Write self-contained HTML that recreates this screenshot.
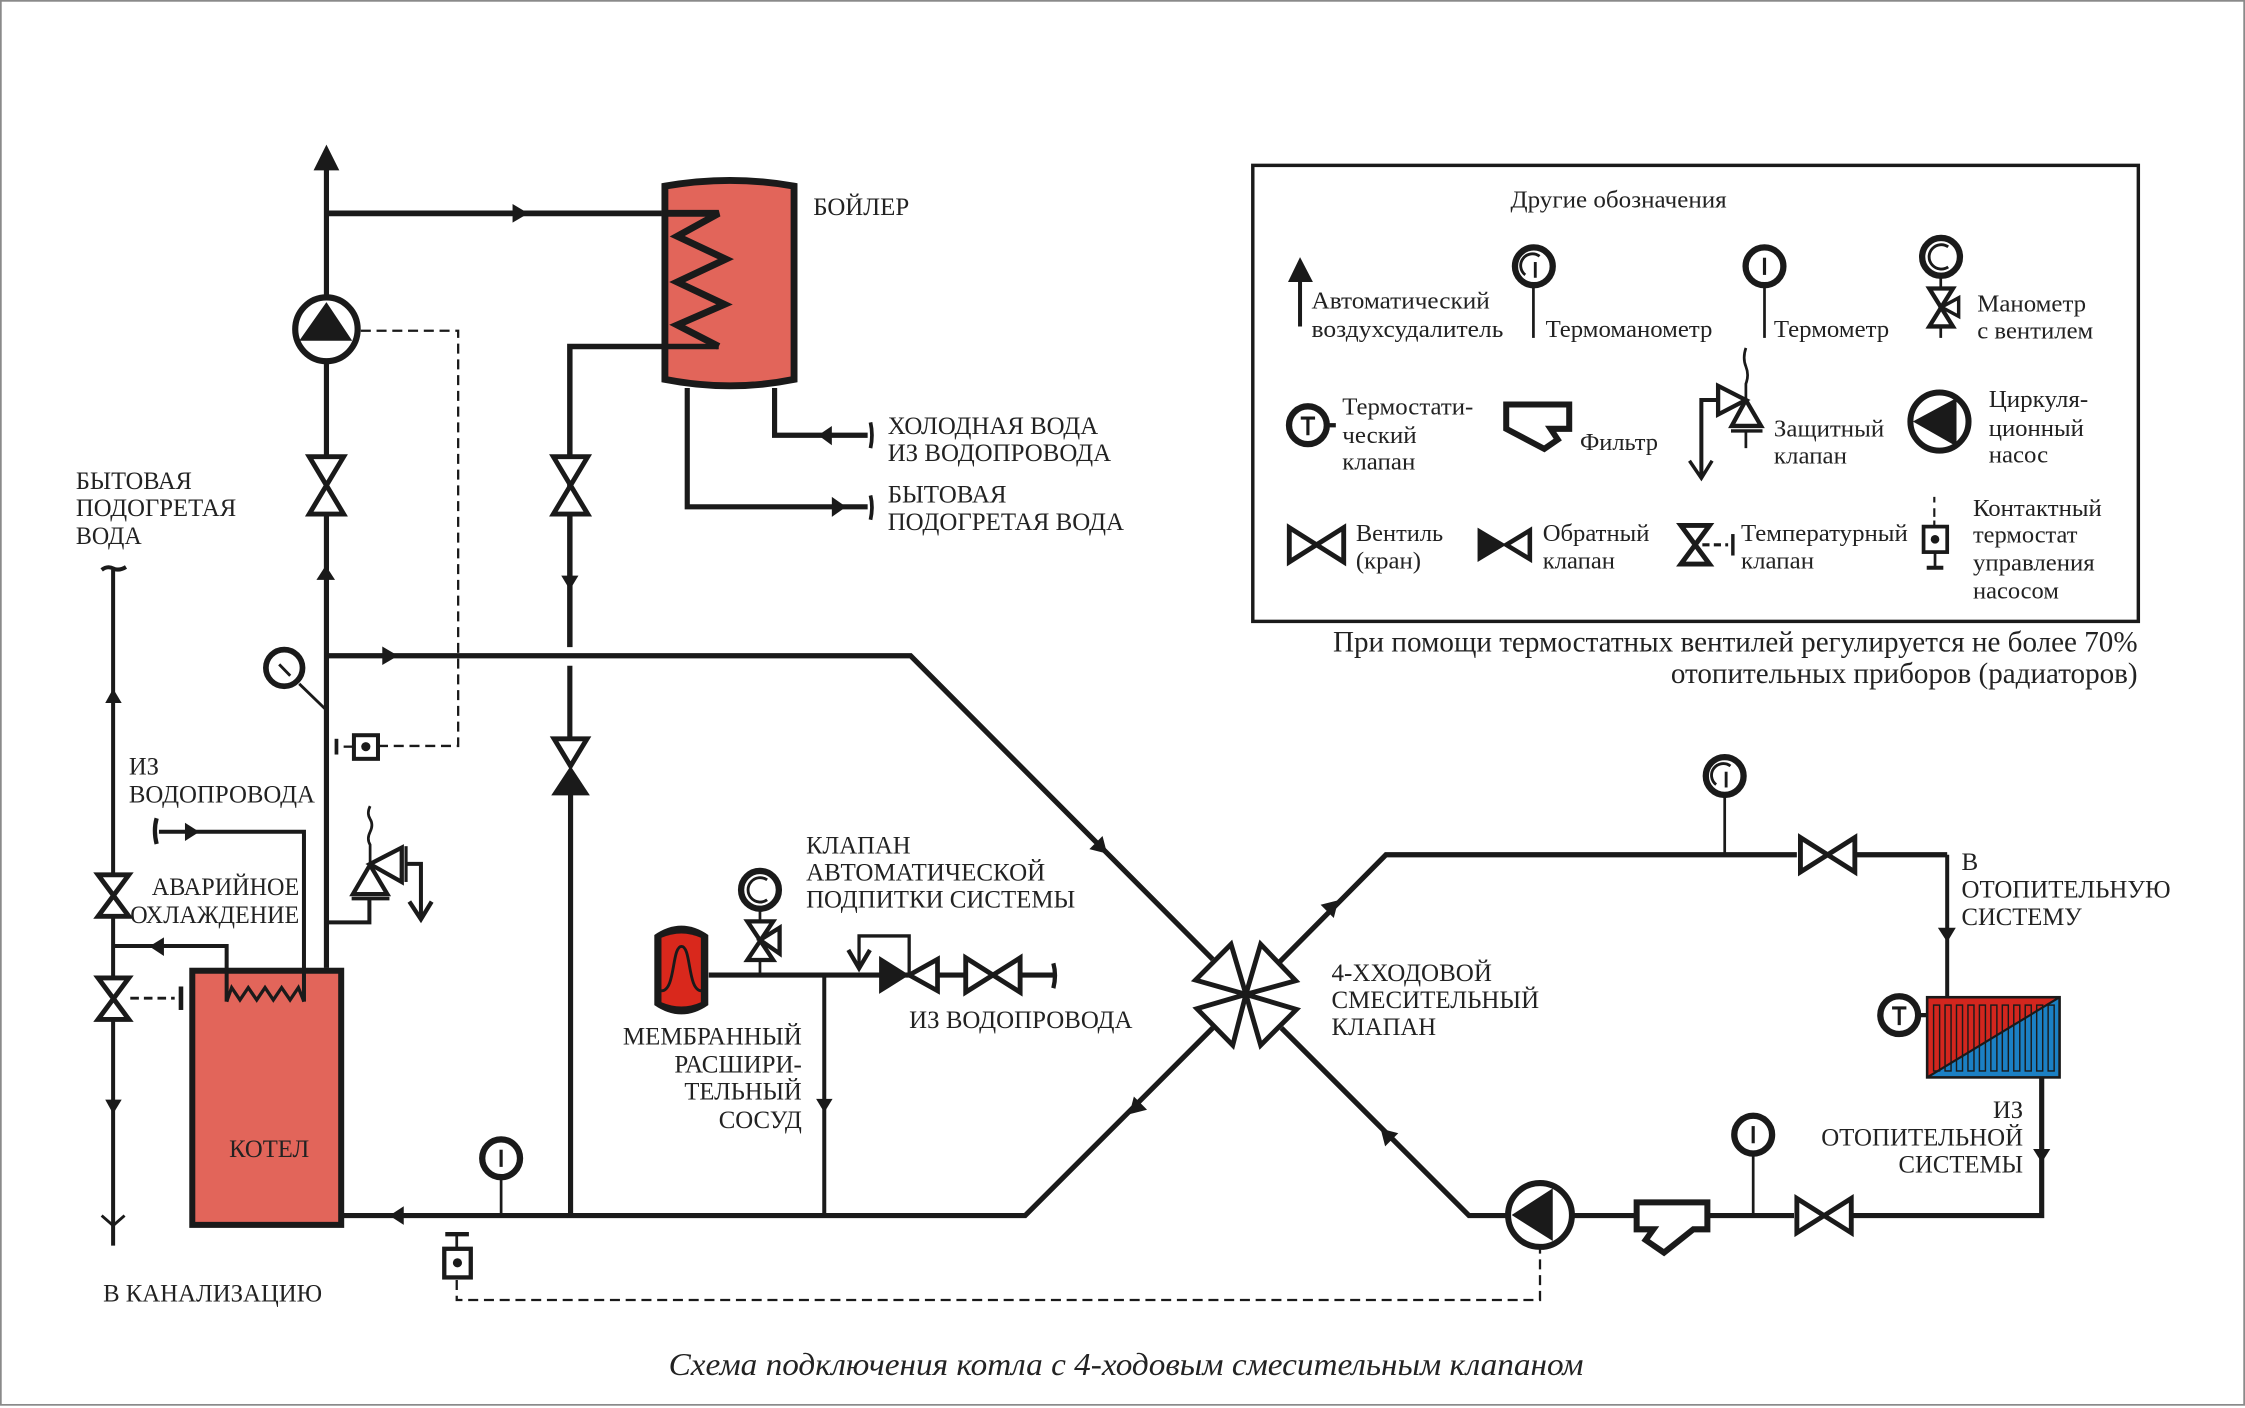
<!DOCTYPE html>
<html lang="ru"><head><meta charset="utf-8"><title>Схема подключения котла</title>
<style>
html,body{margin:0;padding:0;background:#fff}
svg{display:block}
text{font-family:"Liberation Serif","Noto Serif CJK SC",serif;font-size:17.5px;fill:#222}
.lg text{font-size:17px}
.p{fill:none;stroke:#1a1a1a;stroke-width:3.6;stroke-linejoin:miter}
.m{fill:none;stroke:#1a1a1a;stroke-width:2.8}
.t{fill:none;stroke:#1a1a1a;stroke-width:1.9}
.d{fill:none;stroke:#1a1a1a;stroke-width:1.6;stroke-dasharray:7 4}
.v{fill:#fff;stroke:#1a1a1a;stroke-width:3.4;stroke-linejoin:miter}
.b{fill:#1a1a1a;stroke:none}
</style></head><body>
<svg xmlns="http://www.w3.org/2000/svg" width="2245" height="1408" viewBox="0 0 1568 983.4">
<defs>
<polygon id="ah" class="b" points="6,0 -5,-6.500 -5,6.500"/>
<g id="vv"><path class="v" d="M-12,-20H12L-12,20H12Z"/></g>
<g id="vh"><path class="v" d="M-19,-12V12L19,-12V12Z"/></g>
<g id="gt"><circle r="13.200" fill="#fff" stroke="#1a1a1a" stroke-width="4.400"/><path d="M0,-6V6" stroke="#1a1a1a" stroke-width="2.200" fill="none"/></g>
<g id="gm"><circle r="13.200" fill="#fff" stroke="#1a1a1a" stroke-width="4.400"/><path d="M4,-7A8,8 0 0 0 -6,6" stroke="#1a1a1a" stroke-width="2" fill="none"/><path d="M1,-3V8" stroke="#1a1a1a" stroke-width="2" fill="none"/></g>
<g id="gp"><circle r="13.200" fill="#fff" stroke="#1a1a1a" stroke-width="4.400"/><path d="M5,-7A8.500,8.500 0 1 0 5,7" stroke="#1a1a1a" stroke-width="2" fill="none"/></g>
<g id="gT"><circle r="13.200" fill="#fff" stroke="#1a1a1a" stroke-width="4.400"/><path d="M-5,-5H5M0,-5V7" stroke="#1a1a1a" stroke-width="2.200" fill="none"/></g>
</defs>
<rect width="1568" height="983.4" fill="#fff"/>
<rect x=".6" y=".6" width="1566.8" height="980.6" fill="none" stroke="#8a8a8a" stroke-width="1.2"/>

<!-- main risers -->
<path class="p" d="M228,115V676"/>
<polygon class="b" points="228,101 219,119 237,119"/>
<path d="M228,149H462" fill="none" stroke="#1a1a1a" stroke-width="4"/>
<use href="#ah" x="363" y="149"/>
<polygon class="b" points="221,405 234,405 227.500,395"/>
<!-- boiler -->
<path d="M464.400,130Q510,122 554.600,130V265Q510,274 464.400,265Z" fill="#e2655a" stroke="#1a1a1a" stroke-width="4.800"/>
<path d="M462,149H502L473,165 507,181 473,197 506,212.600 473,227 502,242" fill="none" stroke="#1a1a1a" stroke-width="4.800"/>
<path d="M502,242H398V452" fill="none" stroke="#1a1a1a" stroke-width="3.800"/>
<path class="p" d="M541,271V304H606"/>
<polygon class="b" points="571.500,304 581,297.500 581,311"/>
<path class="p" d="M480,271V354H606"/>
<polygon class="b" points="581,347 581,361 591,354"/>
<path d="M608,295Q610,304 608,313M608,346Q610,354 608,363" fill="none" stroke="#1a1a1a" stroke-width="2.600"/>
<!-- upper pump -->
<ellipse cx="228" cy="230" rx="21.800" ry="22.300" fill="#fff" stroke="#1a1a1a" stroke-width="4.300"/>
<polygon class="b" points="228,211 209,238 246,238"/>
<path class="d" d="M252,231H320V521H265"/>
<use href="#vv" x="228" y="339"/>
<use href="#vv" x="398.500" y="339"/>
<polygon class="b" points="392,402 404,402 398,412"/>
<!-- supply line -->
<path class="p" d="M228,458H636L847,670"/>
<use href="#ah" x="272" y="458"/>
<path class="p" d="M398,465V515"/>
<path class="v" d="M387,516H410L398.500,535Z"/>
<polygon class="b" points="398.500,535 385,555.500 412,555.500"/>
<path class="p" d="M398.500,555V849"/>
<!-- gauge and sensor -->
<circle cx="198.500" cy="466.500" r="12.800" fill="#fff" stroke="#1a1a1a" stroke-width="4"/>
<path d="M195,464L202.700,472M209,477.600L227,495" stroke="#1a1a1a" stroke-width="2" fill="none"/>
<rect x="247.200" y="513.500" width="16.800" height="16.500" fill="#fff" stroke="#1a1a1a" stroke-width="2.800"/>
<circle cx="255.500" cy="521.500" r="3.200" class="b"/>
<path d="M235,516V527" stroke="#1a1a1a" stroke-width="2.600"/>
<path d="M240,521.500H246" stroke="#1a1a1a" stroke-width="1.600"/>
<!-- left line -->
<path class="m" d="M79,398V870"/>
<path d="M71,398Q75,395 79,397T88,396" fill="none" stroke="#1a1a1a" stroke-width="2.800"/>
<polygon class="b" points="79,481 73.500,491 85,491"/>
<polygon class="b" points="73.500,768 85,768 79,778"/>
<path d="M71,849L79,856 87,849" fill="none" stroke="#1a1a1a" stroke-width="2"/>
<path class="v" d="M68.500,611H90L68.500,640H90Z"/>
<path class="v" d="M68.500,683H90L68.500,712H90Z"/>
<path d="M91,697.200H122" stroke="#1a1a1a" stroke-width="2" stroke-dasharray="6 3.500"/>
<path d="M126.400,689V705.400" stroke="#1a1a1a" stroke-width="3.200"/>
<!-- boiler (kotel) -->
<rect x="134.300" y="678" width="104" height="177.500" fill="#e2655a" stroke="#1a1a1a" stroke-width="4.200"/>
<path class="m" d="M79,660.700H158.300V699.600"/>
<polygon class="b" points="104.300,661 114.500,654.700 114.500,667.700"/>
<path class="m" d="M111,580.900H212.300V699.600"/>
<path d="M109.400,571.500Q107,580 109.400,589.500" fill="none" stroke="#1a1a1a" stroke-width="3"/>
<polygon class="b" points="129.200,574.600 129.200,587.400 139.200,581"/>
<path d="M158.300,699.600L161.800,689.800 167.600,698.400 173.400,689.800 179.300,698.400 185.100,689.800 190.900,698.400 196.700,689.800 202.600,698.400 208.400,689.800 212.300,699.600" fill="none" stroke="#1a1a1a" stroke-width="2.300"/>
<!-- safety valve -->
<path class="m" d="M228,644.200H258V628"/>
<path class="t" d="M258.500,563Q256,568 258.500,572T258.500,581 258.500,590V604"/>
<path class="v" style="stroke-width:3" d="M258.400,604.100L270.500,624.500H246.500Z"/>
<path d="M245.600,627.600H272" stroke="#1a1a1a" stroke-width="2.600"/>
<path class="v" style="stroke-width:3" d="M258.400,603.500L280.600,592V616Z"/>
<path d="M283.600,591V616" stroke="#1a1a1a" stroke-width="2.200"/>
<path d="M284,603.400H294V641" class="m"/>
<path d="M285.900,629.700L294,642 301.500,629.700" fill="none" stroke="#1a1a1a" stroke-width="3"/>
<!-- return main -->
<path class="p" d="M240,849H716L847,718"/>
<polygon class="b" points="272,849 282,842.500 282,855.500"/>
<use href="#gt" x="350" y="809"/>
<path class="t" d="M350,824V849"/>
<path class="m" d="M575.700,681V849"/>
<polygon class="b" points="570,767.500 581.500,767.500 575.700,777"/>
<path class="m" d="M311,862H327.500" style="stroke-width:3"/>
<path class="t" d="M319,862V871"/>
<rect x="310.300" y="872.200" width="18.500" height="20" fill="#fff" stroke="#1a1a1a" stroke-width="3"/>
<circle cx="319.500" cy="882" r="3.200" class="b"/>
<path class="d" d="M319,894V908H1075.600V872"/>
<!-- membrane and makeup -->
<path class="b" d="M457,653Q476,640 494.700,653V702Q476,715 457,702Z"/>
<path d="M462,655Q476,649 489.500,655V700Q476,706 462,700Z" fill="#d9281c"/>
<path d="M462,692C472,692 469,661 476,661C483,661 480,692 490,692" fill="none" stroke="#1a1a1a" stroke-width="2"/>
<path class="p" d="M495,681H735.700"/>
<path d="M735.700,672.800Q738,681 735.700,690.200" fill="none" stroke="#1a1a1a" stroke-width="3"/>
<path class="t" d="M530.800,636V681"/>
<path class="v" style="stroke-width:3" d="M522,643.500H540L522,670.500H540Z"/>
<path d="M530.800,656.500L544.500,648V666Z" fill="#fff" stroke="#1a1a1a" stroke-width="3"/>
<use href="#gp" x="530.800" y="621.500"/>
<polygon class="b" points="614,667.700 614,694.200 635,681"/>
<path class="v" style="stroke-width:3.300" d="M635,681L654.800,670V692Z"/>
<path d="M635,681V653.700H600V675" fill="none" stroke="#1a1a1a" stroke-width="2.300"/>
<path d="M592.500,663.500L600,676.300 607.600,663.500" fill="none" stroke="#1a1a1a" stroke-width="3"/>
<use href="#vh" x="693.500" y="681"/>
<!-- 4-way valve -->
<g fill="#fff" stroke="#1a1a1a" stroke-width="3.400" stroke-linejoin="miter">
<path d="M870.200,694.500L835,684.500 859.800,659.500Z"/>
<path d="M870.200,694.500L880.500,659.500 905,685Z"/>
<path d="M870.200,694.500L836,704.500 861,730Z"/>
<path d="M870.200,694.500L905.500,705 880.500,730Z"/>
</g>
<path class="p" d="M894,671.600L968,597H1255M1297,597H1360"/>
<path class="p" d="M895,718L1026,849H1053"/>
<use href="#ah" transform="translate(769,592) rotate(45)"/>
<use href="#ah" transform="translate(930.500,633) rotate(-45)"/>
<use href="#ah" transform="translate(793,774) rotate(135)"/>
<use href="#ah" transform="translate(968.500,792.500) rotate(225)"/>
<!-- right side -->
<use href="#gm" x="1204.600" y="542"/>
<path class="t" d="M1204.600,557V597"/>
<use href="#vh" x="1276.500" y="597"/>
<path class="m" d="M1360,597V696"/>
<polygon class="b" points="1353.500,648 1366,648 1360,658"/>
<rect x="1346" y="696.500" width="92.500" height="56" fill="#1b80c4"/>
<polygon points="1346,696.500 1438.500,696.500 1346,752.500" fill="#d3261e"/>
<g fill="none" stroke="#1a1a1a" stroke-width="1">
<rect x="1350.500" y="702" width="4.200" height="46"/><rect x="1358.500" y="702" width="4.200" height="46"/><rect x="1366.500" y="702" width="4.200" height="46"/><rect x="1374.500" y="702" width="4.200" height="46"/><rect x="1382.500" y="702" width="4.200" height="46"/><rect x="1390.500" y="702" width="4.200" height="46"/><rect x="1398.500" y="702" width="4.200" height="46"/><rect x="1406.500" y="702" width="4.200" height="46"/><rect x="1414.500" y="702" width="4.200" height="46"/><rect x="1422.500" y="702" width="4.200" height="46"/><rect x="1430.500" y="702" width="4.200" height="46"/>
</g>
<rect x="1346" y="696.500" width="92.500" height="56" fill="none" stroke="#1a1a1a" stroke-width="1.800"/>
<path d="M1346,752.500L1438.500,696.500" stroke="#1a1a1a" stroke-width="1.500"/>
<path d="M1341,709H1346" stroke="#1a1a1a" stroke-width="3"/>
<use href="#gT" x="1326.500" y="709"/>
<path class="p" d="M1426,753V849H1294M1253,849H1194M1142,849H1098"/>
<polygon class="b" points="1420,802.500 1432,802.500 1426,812"/>
<use href="#vh" x="1274" y="849"/>
<use href="#gt" x="1224.500" y="792.500"/>
<path class="t" d="M1224.500,807V849"/>
<path class="v" style="stroke-width:4.200" d="M1143.100,839.800H1192.500V858.600H1182.700L1162.200,874.900 1149.400,866.100 1154.800,858.600H1143.100Z"/>
<circle cx="1075.600" cy="848.600" r="22.300" fill="#fff" stroke="#1a1a1a" stroke-width="4.200"/>
<polygon class="b" points="1055.800,848.600 1084.500,830 1084.500,866.800"/>

<!-- labels -->
<text x="568" y="150" textLength="67" lengthAdjust="spacingAndGlyphs">БОЙЛЕР</text>
<text x="620" y="303" textLength="147" lengthAdjust="spacingAndGlyphs">ХОЛОДНАЯ ВОДА</text>
<text x="620" y="322" textLength="156" lengthAdjust="spacingAndGlyphs">ИЗ ВОДОПРОВОДА</text>
<text x="620" y="351" textLength="83" lengthAdjust="spacingAndGlyphs">БЫТОВАЯ</text>
<text x="620" y="370" textLength="165" lengthAdjust="spacingAndGlyphs">ПОДОГРЕТАЯ ВОДА</text>
<text x="53" y="341.500" textLength="81" lengthAdjust="spacingAndGlyphs">БЫТОВАЯ</text>
<text x="53" y="360.500" textLength="112" lengthAdjust="spacingAndGlyphs">ПОДОГРЕТАЯ</text>
<text x="53" y="380" textLength="46" lengthAdjust="spacingAndGlyphs">ВОДА</text>
<text x="90" y="541" textLength="21" lengthAdjust="spacingAndGlyphs">ИЗ</text>
<text x="90" y="560.500" textLength="130" lengthAdjust="spacingAndGlyphs">ВОДОПРОВОДА</text>
<text x="106" y="625" textLength="103" lengthAdjust="spacingAndGlyphs">АВАРИЙНОЕ</text>
<text x="91" y="644.700" textLength="118" lengthAdjust="spacingAndGlyphs">ОХЛАЖДЕНИЕ</text>
<text x="72" y="909" textLength="153" lengthAdjust="spacingAndGlyphs">В КАНАЛИЗАЦИЮ</text>
<text x="160" y="808" textLength="56" lengthAdjust="spacingAndGlyphs">КОТЕЛ</text>
<text x="563" y="596" textLength="73" lengthAdjust="spacingAndGlyphs">КЛАПАН</text>
<text x="563" y="615" textLength="167" lengthAdjust="spacingAndGlyphs">АВТОМАТИЧЕСКОЙ</text>
<text x="563" y="634" textLength="188" lengthAdjust="spacingAndGlyphs">ПОДПИТКИ СИСТЕМЫ</text>
<text x="435" y="729.500" textLength="125" lengthAdjust="spacingAndGlyphs">МЕМБРАННЫЙ</text>
<text x="471" y="749" textLength="89" lengthAdjust="spacingAndGlyphs">РАСШИРИ-</text>
<text x="478" y="768" textLength="82" lengthAdjust="spacingAndGlyphs">ТЕЛЬНЫЙ</text>
<text x="502" y="788" textLength="58" lengthAdjust="spacingAndGlyphs">СОСУД</text>
<text x="635" y="718" textLength="156" lengthAdjust="spacingAndGlyphs">ИЗ ВОДОПРОВОДА</text>
<text x="930" y="685" textLength="112" lengthAdjust="spacingAndGlyphs">4-ХХОДОВОЙ</text>
<text x="930" y="704" textLength="145" lengthAdjust="spacingAndGlyphs">СМЕСИТЕЛЬНЫЙ</text>
<text x="930" y="723" textLength="73" lengthAdjust="spacingAndGlyphs">КЛАПАН</text>
<text x="1370" y="607.500">В</text>
<text x="1370" y="627" textLength="146" lengthAdjust="spacingAndGlyphs">ОТОПИТЕЛЬНУЮ</text>
<text x="1370" y="646" textLength="84" lengthAdjust="spacingAndGlyphs">СИСТЕМУ</text>
<text x="1392" y="781" textLength="21" lengthAdjust="spacingAndGlyphs">ИЗ</text>
<text x="1272" y="800" textLength="141" lengthAdjust="spacingAndGlyphs">ОТОПИТЕЛЬНОЙ</text>
<text x="1326" y="819" textLength="87" lengthAdjust="spacingAndGlyphs">СИСТЕМЫ</text>
<text x="467" y="960.500" textLength="639" lengthAdjust="spacingAndGlyphs" style="font-size:22.500px;font-style:italic">Схема подключения котла с 4-ходовым смесительным клапаном</text>
<text x="931" y="455" textLength="562" lengthAdjust="spacingAndGlyphs" style="font-size:20.500px">При помощи термостатных вентилей регулируется не более 70%</text>
<text x="1167" y="477" textLength="326" lengthAdjust="spacingAndGlyphs" style="font-size:20.500px">отопительных приборов (радиаторов)</text>

<!-- legend -->
<g class="lg">
<rect x="875" y="115.500" width="618.500" height="318.500" fill="none" stroke="#1a1a1a" stroke-width="2.400"/>
<text x="1055" y="145" textLength="151" lengthAdjust="spacingAndGlyphs">Другие обозначения</text>
<path class="m" d="M908,228V195"/>
<polygon class="b" points="908,179.600 899.600,197 917,197"/>
<text x="916" y="215.500" textLength="124.500" lengthAdjust="spacingAndGlyphs">Автоматический</text>
<text x="916" y="235.300" textLength="134" lengthAdjust="spacingAndGlyphs">воздухсудалитель</text>
<use href="#gm" x="1071.300" y="186"/>
<path class="t" d="M1071,201V236"/>
<text x="1079.500" y="235.300" textLength="116.500" lengthAdjust="spacingAndGlyphs">Термоманометр</text>
<use href="#gt" x="1232.400" y="186"/>
<path class="t" d="M1232.400,201V236"/>
<text x="1239" y="235.300" textLength="80.500" lengthAdjust="spacingAndGlyphs">Термометр</text>
<use href="#gp" x="1355.700" y="179.400"/>
<path class="t" d="M1355.500,194V236"/>
<path class="v" style="stroke-width:3" d="M1347.500,201.500H1364L1347.500,228H1364Z"/>
<path d="M1356,214.500L1368,208V221Z" fill="#fff" stroke="#1a1a1a" stroke-width="2.400"/>
<text x="1381" y="217.500" textLength="76" lengthAdjust="spacingAndGlyphs">Манометр</text>
<text x="1381" y="236.300" textLength="81" lengthAdjust="spacingAndGlyphs">с вентилем</text>
<use href="#gT" x="913.500" y="297"/>
<path d="M928,297H933" stroke="#1a1a1a" stroke-width="3"/>
<text x="937.500" y="289.500" textLength="91.500" lengthAdjust="spacingAndGlyphs">Термостати-</text>
<text x="937.500" y="309.300" textLength="52" lengthAdjust="spacingAndGlyphs">ческий</text>
<text x="937.500" y="328" textLength="51" lengthAdjust="spacingAndGlyphs">клапан</text>
<path class="v" style="stroke-width:4.200" d="M1052,282.500H1096V299.500H1083L1088,307 1078.600,313.500 1052,299.500Z"/>
<text x="1103.500" y="314.300" textLength="54.500" lengthAdjust="spacingAndGlyphs">Фильтр</text>
<path class="t" d="M1219.400,243Q1217,250 1219.400,256T1219.400,268V279"/>
<path class="v" style="stroke-width:3" d="M1219.400,279.400L1230,297.500H1209.500Z"/>
<path d="M1209,301H1231" stroke="#1a1a1a" stroke-width="2.400"/>
<path class="t" d="M1219.400,302V313"/>
<path class="v" style="stroke-width:3" d="M1219.400,279.400L1200,269.500V289.500Z"/>
<path d="M1199,279.400H1188.300V333" class="m"/>
<path d="M1180,321.800L1188.300,334 1195.800,321.800" fill="none" stroke="#1a1a1a" stroke-width="2.400"/>
<text x="1239" y="305" textLength="77" lengthAdjust="spacingAndGlyphs">Защитный</text>
<text x="1239" y="323.800" textLength="51" lengthAdjust="spacingAndGlyphs">клапан</text>
<circle cx="1354.600" cy="294.400" r="20.300" fill="#fff" stroke="#1a1a1a" stroke-width="4.200"/>
<polygon class="b" points="1336,294.400 1366.500,278 1366.500,311.800"/>
<text x="1389" y="284.400" textLength="69.500" lengthAdjust="spacingAndGlyphs">Циркуля-</text>
<text x="1389" y="304.400" textLength="66.500" lengthAdjust="spacingAndGlyphs">ционный</text>
<text x="1389" y="323" textLength="41.500" lengthAdjust="spacingAndGlyphs">насос</text>
<use href="#vh" x="919.500" y="380.500"/>
<text x="947" y="378" textLength="61" lengthAdjust="spacingAndGlyphs">Вентиль</text>
<text x="947" y="397" textLength="45.500" lengthAdjust="spacingAndGlyphs">(кран)</text>
<polygon class="b" points="1032,368.500 1032,392.500 1052,380.500"/>
<path class="v" style="stroke-width:3.200" d="M1052,380.500L1068.500,370.500V390.500Z"/>
<text x="1077.500" y="378" textLength="74.500" lengthAdjust="spacingAndGlyphs">Обратный</text>
<text x="1077.500" y="397" textLength="50.500" lengthAdjust="spacingAndGlyphs">клапан</text>
<path class="v" d="M1174,367H1194L1174,394H1194Z"/>
<path d="M1189,380.500H1207" stroke="#1a1a1a" stroke-width="2.200" stroke-dasharray="5 3"/>
<path d="M1210.300,373V388" stroke="#1a1a1a" stroke-width="2.400"/>
<text x="1216" y="378" textLength="116.500" lengthAdjust="spacingAndGlyphs">Температурный</text>
<text x="1216" y="397" textLength="51" lengthAdjust="spacingAndGlyphs">клапан</text>
<path d="M1351,347V351M1351,355V361M1351,363.500V367" stroke="#1a1a1a" stroke-width="1.500"/>
<rect x="1343.500" y="367.800" width="16.500" height="17.800" fill="#fff" stroke="#1a1a1a" stroke-width="2.600"/>
<circle cx="1351.500" cy="376.700" r="3" class="b"/>
<path class="t" d="M1351.500,386V396"/>
<path d="M1345.700,396.500H1357.300" stroke="#1a1a1a" stroke-width="2.800"/>
<text x="1378" y="360.500" textLength="90" lengthAdjust="spacingAndGlyphs">Контактный</text>
<text x="1378" y="379" textLength="73" lengthAdjust="spacingAndGlyphs">термостат</text>
<text x="1378" y="398.500" textLength="85" lengthAdjust="spacingAndGlyphs">управления</text>
<text x="1378" y="418" textLength="60" lengthAdjust="spacingAndGlyphs">насосом</text>
</g>
</svg>
</body></html>
